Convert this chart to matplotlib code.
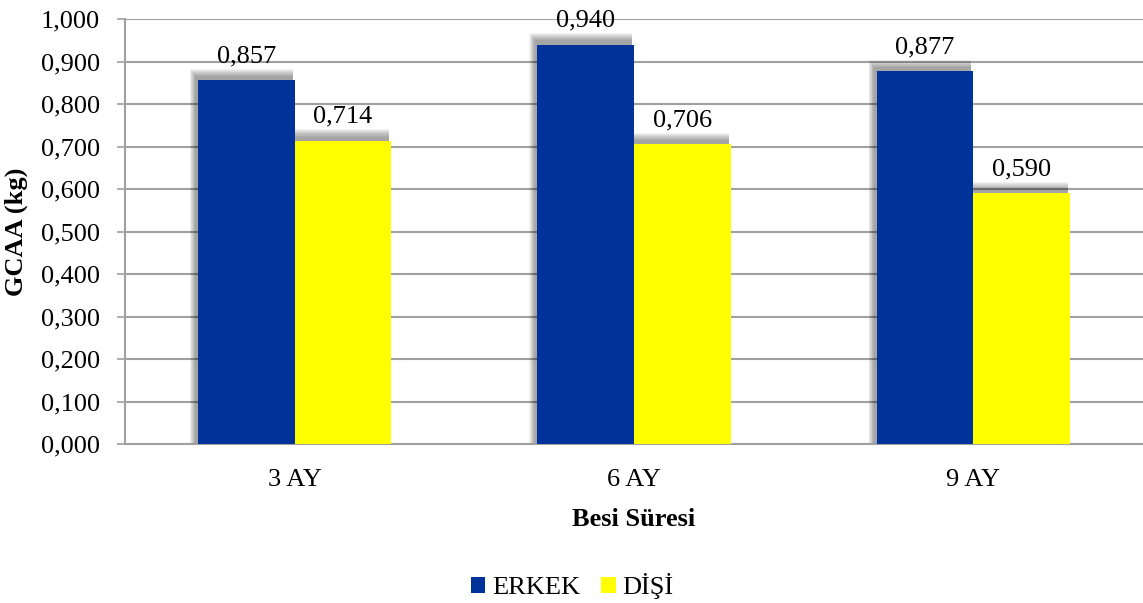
import matplotlib.pyplot as plt
import numpy as np
from matplotlib.patches import Rectangle

plt.rcParams["font.family"] = ["Liberation Serif", "DejaVu Serif"]

categories = ["3 AY", "6 AY", "9 AY"]
erkek = [0.857, 0.940, 0.877]
disi = [0.714, 0.706, 0.590]
series_names = ["ERKEK", "DİŞİ"]
colors = ["#003399", "#ffff00"]


def fmt(v):
    return f"{v:.3f}".replace(".", ",")


fig = plt.figure(figsize=(11.43, 6.03), dpi=100)
ax = fig.add_axes([125 / 1143, 1 - 444 / 603, 1 - 125 / 1143, (444 - 19) / 603])

x = np.arange(len(categories))
width = 0.285

for i, (vals, color, name) in enumerate(zip([erkek, disi], colors, series_names)):
    xs = x + (i - 0.5) * width
    # blurred shadow behind each bar, shifted up and left
    for xi, v in zip(xs, vals):
        for k in range(8):
            grow = (8 - k) * 0.0022
            ax.add_patch(Rectangle((xi - width / 2 - 0.006 - grow, 0),
                                   width + grow, v + 0.007 + grow * 1.1,
                                   color="black", alpha=0.05, lw=0, zorder=2))
    ax.bar(xs, vals, width, color=color, label=name, zorder=3)
    for xi, v in zip(xs, vals):
        ax.text(xi, v + 0.03, fmt(v), ha="center", va="bottom", fontsize=19, zorder=4)

ax.set_xlim(-0.5, 2.5)
ax.set_ylim(0, 1.0)
ticks = np.arange(0, 1.01, 0.1)
ax.set_yticks(ticks)
ax.set_yticklabels([fmt(t) for t in ticks], fontsize=19)
ax.set_xticks(x)
ax.set_xticklabels(categories, fontsize=19)
ax.tick_params(axis="x", length=0, pad=18)
ax.tick_params(axis="y", length=6, width=1.2, color="#a0a0a0", pad=12)
ax.yaxis.grid(True, color="#a0a0a0", linewidth=1.5, zorder=0)
ax.set_axisbelow(True)
for side in ["top", "right"]:
    ax.spines[side].set_visible(False)
for side in ["left", "bottom"]:
    ax.spines[side].set_color("#a0a0a0")
    ax.spines[side].set_linewidth(1.5)

ax.set_ylabel("GCAA (kg)", fontsize=19, fontweight="bold", labelpad=9)
ax.set_xlabel("Besi Süresi", fontsize=19, fontweight="bold", labelpad=12)

fig.legend(loc="center", bbox_to_anchor=(572 / 1143, 1 - 586 / 603), ncol=2,
           frameon=False, fontsize=19, handlelength=0.55, handleheight=0.55,
           handletextpad=0.25, columnspacing=0.8)

fig.savefig("out.png", dpi=100)
